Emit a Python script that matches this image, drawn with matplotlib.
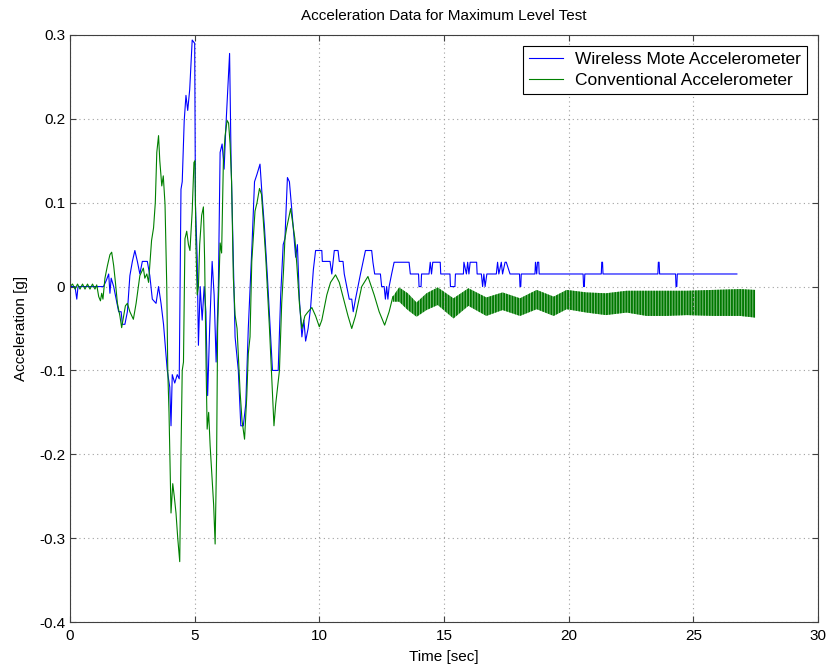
import matplotlib
matplotlib.use('Agg')
import matplotlib.pyplot as plt
from matplotlib.ticker import FixedLocator

plt.rcParams['font.family'] = ['Liberation Sans', 'DejaVu Sans']
plt.rcParams['hatch.linewidth'] = 1.3

# wireless mote accelerometer (quantized signal)
mote_t = [0.0, 0.2, 0.27, 0.32, 1.34, 1.45, 1.55, 1.6, 1.65, 1.75, 1.85, 1.95, 2.05, 2.1, 2.2,
          2.3, 2.4, 2.5, 2.6, 2.7, 2.8, 2.9, 3.1, 3.2, 3.3, 3.45, 3.55, 3.65, 3.75, 3.82,
          3.9, 4.0, 4.05, 4.1, 4.2, 4.3, 4.38, 4.45, 4.5, 4.58, 4.65, 4.72, 4.8, 4.9, 5.0,
          5.03, 5.1, 5.15, 5.22, 5.3, 5.38, 5.45, 5.52, 5.6, 5.7, 5.78, 5.86, 5.95, 6.02,
          6.1, 6.18, 6.25, 6.4, 6.46, 6.55, 6.62, 6.75, 6.85, 6.95, 7.05, 7.15, 7.3, 7.4,
          7.5, 7.62, 7.7, 7.8, 7.92, 8.05, 8.12, 8.35, 8.45, 8.55, 8.62, 8.72, 8.8, 8.9,
          9.05, 9.12, 9.2, 9.3, 9.38, 9.45, 9.55, 9.65, 9.76, 9.85, 10.1, 10.12, 10.43,
          10.5, 10.6, 10.75, 10.8, 10.95, 11.0, 11.1, 11.2, 11.3, 11.36, 11.45, 11.55,
          11.65, 11.75, 11.85, 12.1, 12.15, 12.22, 12.45, 12.5, 12.6, 12.65, 12.7, 12.75,
          12.8, 12.9, 13.0, 13.6, 13.65, 13.98, 14.0, 14.08, 14.1, 14.4, 14.45, 14.5,
          14.55, 14.6, 14.85, 14.87, 15.24, 15.26, 15.44, 15.46, 15.78, 15.8, 15.9, 15.95,
          16.0, 16.05, 16.31, 16.33, 16.5, 16.55, 16.6, 16.65, 16.72, 16.78, 17.1, 17.15,
          17.2, 17.3, 17.35, 17.45, 17.5, 17.65, 17.67, 18.03, 18.05, 18.08, 18.1, 18.65,
          18.67, 18.72, 18.75, 18.8, 18.82, 20.58, 20.6, 20.63, 20.65, 21.31, 21.33, 21.36,
          21.38, 23.58, 23.6, 23.63, 23.65, 24.29, 24.31, 24.34, 24.36, 26.75]
mote_a = [0, 0, -0.015, 0, 0, 0.007, 0.015, -0.008, 0.01, 0, -0.015, -0.03, -0.03, -0.045, -0.045,
          -0.03, 0.013, 0.03, 0.043, 0.03, 0.015, 0.03, 0.03, 0.013, -0.015, -0.02, 0, -0.02, -0.045, -0.07,
          -0.1, -0.12, -0.166, -0.105, -0.115, -0.105, -0.11, 0.116, 0.125, 0.198, 0.228, 0.21, 0.235, 0.294, 0.29,
          0.098, 0.034, -0.07, 0.0, -0.04, 0.0, -0.03, -0.13, -0.05, 0.03, -0.01, -0.09, 0.0, 0.16,
          0.17, 0.14, 0.19, 0.278, 0.15, 0.034, -0.06, -0.1, -0.166, -0.166, -0.14, -0.05, 0.05, 0.125,
          0.134, 0.146, 0.11, 0.07, 0.01, -0.06, -0.1, -0.1, -0.01, 0.05, 0.057, 0.13, 0.125, 0.09,
          0.035, 0.05, -0.015, -0.06, -0.04, -0.065, -0.05, -0.025, 0.02, 0.043, 0.043, 0.03, 0.03,
          0.015, 0.043, 0.043, 0.03, 0.03, 0.015, 0, -0.015, -0.015, -0.03, -0.015, 0,
          0.015, 0.029, 0.043, 0.043, 0.029, 0.015, 0.015, 0, 0, -0.015, 0, -0.015,
          0, 0.015, 0.029, 0.029, 0.015, 0.015, 0, 0, 0.015, 0.015, 0.029, 0.015,
          0.029, 0.029, 0.029, 0.015, 0.015, 0, 0, 0.015, 0.015, 0.029, 0.015, 0.029,
          0.015, 0.029, 0.029, 0.015, 0.015, 0, 0.015, 0, 0.015, 0.015, 0.015, 0.029,
          0.015, 0.029, 0.015, 0.029, 0.029, 0.015, 0.015, 0.015, 0, 0, 0.015, 0.015,
          0.029, 0.015, 0.029, 0.029, 0.015, 0.015, 0, 0, 0.015, 0.015, 0.029, 0.029,
          0.015, 0.015, 0.029, 0.029, 0.015, 0.015, 0, 0, 0.015, 0.015]

# conventional accelerometer, transient part
conv_t = [0.0, 0.1, 0.2, 0.3, 0.4, 0.5, 0.6, 0.7, 0.8, 0.9, 1.0, 1.07, 1.15, 1.22, 1.27, 1.32,
          1.4, 1.5, 1.6, 1.67, 1.75, 1.82, 1.9, 2.0, 2.07, 2.15, 2.22, 2.3, 2.4, 2.54, 2.65,
          2.8, 2.94, 3.0, 3.08, 3.15, 3.27, 3.35, 3.42, 3.48, 3.55, 3.6, 3.68, 3.74, 3.81,
          3.88, 3.92, 3.97, 4.05, 4.12, 4.18, 4.25, 4.32, 4.4, 4.45, 4.5, 4.55, 4.61, 4.68,
          4.75, 4.81, 4.9, 4.97, 5.01, 5.05, 5.1, 5.15, 5.2, 5.28, 5.35, 5.4, 5.46, 5.5,
          5.56, 5.62, 5.7, 5.76, 5.82, 5.88, 5.92, 5.97, 6.02, 6.08, 6.15, 6.22, 6.3, 6.36,
          6.42, 6.48, 6.55, 6.62, 6.7, 6.82, 6.9, 7.0, 7.09, 7.15, 7.22, 7.29, 7.42, 7.5,
          7.6, 7.68, 7.75, 7.85, 8.0, 8.1, 8.18, 8.25, 8.4, 8.49, 8.56, 8.62, 8.69, 8.85,
          8.96, 9.02, 9.1, 9.2, 9.3, 9.42, 9.55, 9.7, 9.85, 10.0, 10.1, 10.3, 10.45, 10.65,
          10.8, 10.95, 11.15, 11.3, 11.45, 11.7, 11.95, 12.2, 12.4, 12.62, 12.8, 12.95]
conv_a = [0, 0.003, -0.003, 0.003, -0.003, 0.003, -0.003, 0.003, -0.003, 0.003, -0.003, 0.002, -0.012, -0.017, -0.008, -0.015,
          0.01, 0.025, 0.038, 0.041, 0.025, 0.005, -0.02, -0.035, -0.049, -0.035, -0.023, -0.02, -0.03, -0.039, -0.02,
          0.013, 0.022, 0.01, 0.015, 0.005, 0.055, 0.07, 0.1, 0.16, 0.18, 0.15, 0.12, 0.132, 0.098,
          0.0, -0.1, -0.15, -0.27, -0.235, -0.25, -0.27, -0.3, -0.328, -0.2, -0.1, -0.09, 0.057, 0.066,
          0.05, 0.043, 0.09, 0.148, 0.15, 0.05, -0.01, 0.0, 0.05, 0.085, 0.095, 0.03, -0.1, -0.17,
          -0.15, -0.19, -0.23, -0.26, -0.307, -0.2, -0.05, 0.0, 0.052, 0.04, 0.148, 0.18, 0.198, 0.195,
          0.17, 0.125, 0.011, -0.034, -0.05, -0.125, -0.16, -0.182, -0.13, -0.08, -0.06, 0.03, 0.09, 0.1,
          0.117, 0.11, 0.08, 0.035, -0.05, -0.115, -0.166, -0.14, -0.1, -0.02, 0.017, 0.057, 0.07, 0.093,
          0.07, 0.057, 0.025, -0.02, -0.05, -0.035, -0.03, -0.025, -0.035, -0.048, -0.04, -0.01, 0.005, 0.014,
          0.005, -0.012, -0.035, -0.05, -0.035, 0.0, 0.012, -0.01, -0.03, -0.046, -0.03, -0.012]

# conventional accelerometer, residual vibration band (upper / lower envelope)
band_t = [12.95, 13.2, 13.55, 13.9, 14.3, 14.75, 15.38, 15.98, 16.7, 17.35, 18.05, 18.72,
          19.4, 19.92, 20.72, 21.5, 22.33, 23.13, 23.94, 24.74, 25.8, 26.88, 27.48]
band_hi = [-0.012, -0.001, -0.008, -0.019, -0.008, -0.001, -0.014, -0.002, -0.013, -0.007, -0.014, -0.004,
           -0.012, -0.004, -0.007, -0.008, -0.005, -0.005, -0.005, -0.005, -0.004, -0.003, -0.004]
band_lo = [-0.018, -0.018, -0.028, -0.036, -0.028, -0.022, -0.038, -0.023, -0.035, -0.028, -0.035, -0.027,
           -0.035, -0.027, -0.031, -0.034, -0.031, -0.035, -0.035, -0.034, -0.035, -0.035, -0.037]

xticks = [0, 5, 10, 15, 20, 25, 30]
yticks = [-0.4, -0.3, -0.2, -0.1, 0, 0.1, 0.2, 0.3]
ytick_labels = ['-0.4', '-0.3', '-0.2', '-0.1', '0', '0.1', '0.2', '0.3']

fig = plt.figure(figsize=(8.27, 6.70), dpi=100)
ax = fig.add_axes([0.0847, 0.0716, 0.9043, 0.8762])

ax.plot(mote_t, mote_a, color='#0000ff', lw=0.8, label='Wireless Mote Accelerometer')
ax.plot(conv_t, conv_a, color='#008000', lw=0.8, label='Conventional Accelerometer')
ax.fill_between(band_t, band_lo, band_hi, facecolor='#80c080', edgecolor='#007800',
                hatch='||||||', linewidth=0)

ax.set_xlim(0, 30)
ax.set_ylim(-0.4, 0.3)
ax.xaxis.set_major_locator(FixedLocator(xticks))
ax.set_yticks(yticks)
ax.set_yticklabels(ytick_labels)
ax.tick_params(direction='in', top=True, right=True, labelsize=11, length=4, color='#404040')
ax.tick_params(axis='x', pad=5)
ax.grid(True, color='#a0a0a0', linestyle=(0, (1, 3)), linewidth=0.8)
for s in ax.spines.values():
    s.set_color('#404040')
    s.set_linewidth(0.8)

ax.set_xlabel('Time [sec]', fontsize=11, labelpad=5)
ax.set_ylabel('Acceleration [g]', fontsize=11, labelpad=8)
ax.set_title('Acceleration Data for Maximum Level Test', fontsize=11, pad=11)

leg = ax.legend(loc='upper right', fontsize=12.5, fancybox=False, framealpha=1,
                edgecolor='black', borderaxespad=0.65, handlelength=2.0,
                handletextpad=0.65, borderpad=0.35, labelspacing=0.3)
leg.get_frame().set_linewidth(0.8)

plt.savefig('out.png', dpi=100)
